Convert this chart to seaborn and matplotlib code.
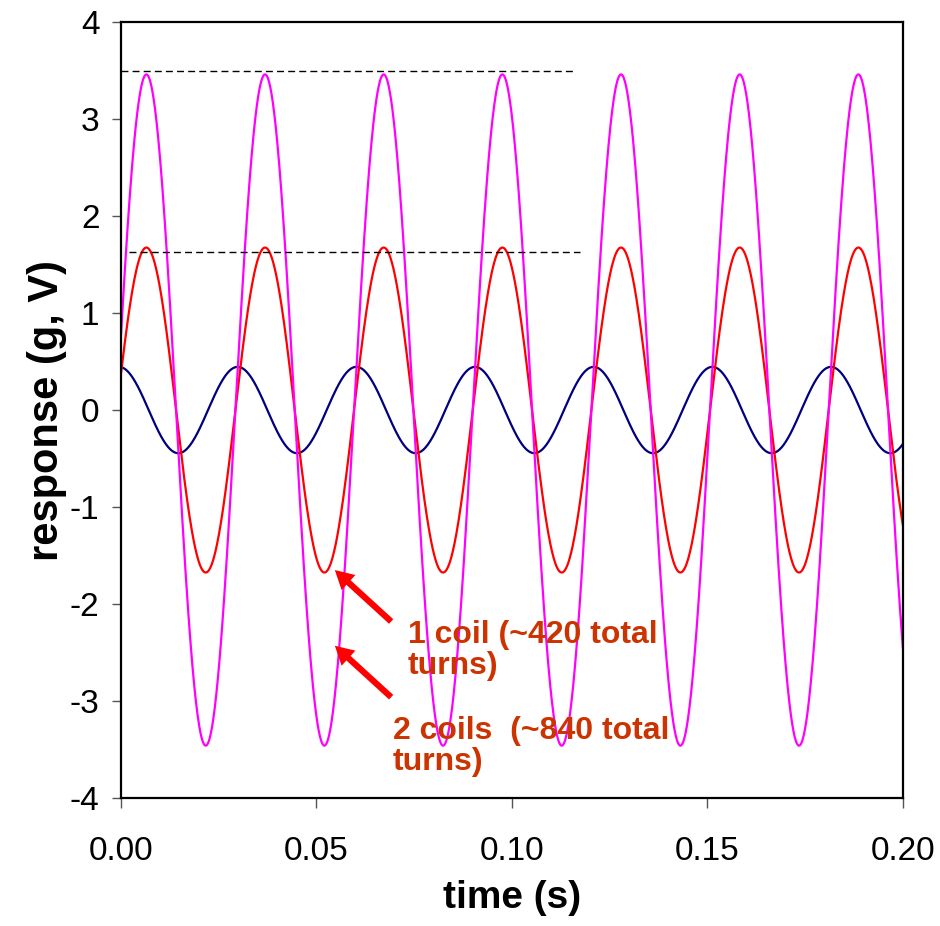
import numpy as np
import pandas as pd
import matplotlib
matplotlib.use("Agg")
import matplotlib.pyplot as plt
import seaborn as sns

# Values
series_names = ["input (g)", "1 coil", "2 coils"]
series_colors = ["#000080", "#FF0000", "#FF00FF"]
amplitudes = [0.445, 1.675, 3.46]      # peak value of each trace
peak_times = [-0.0005, 0.0065, 0.0065]  # time of first peak (s)
frequency_hz = 32.95                    # same drive frequency for all traces
time_range = [0.0, 0.2]

# dashed guide lines at the peak levels
guide_levels = [3.5, 1.63]
guide_starts = [0.0, 0.002]
guide_ends = [0.1155, 0.1175]

# annotations
labels = ["1 coil (~420 total\nturns)", "2 coils  (~840 total\nturns)"]
label_x = [0.0734, 0.0696]
label_y = [-2.16, -3.15]
arrow_tails = [(0.0691, -2.18), (0.0691, -2.96)]
arrow_tips = [(0.0547, -1.65), (0.0547, -2.43)]

# build a long table of the traces
t = np.linspace(time_range[0], time_range[1], 2001)
frames = []
for name, amp, tp in zip(series_names, amplitudes, peak_times):
    frames.append(pd.DataFrame({
        "time": t,
        "response": amp * np.cos(2 * np.pi * frequency_hz * (t - tp)),
        "series": name,
    }))
df = pd.concat(frames, ignore_index=True)

sns.set_style("ticks")
plt.rcParams["font.family"] = ["Liberation Sans", "DejaVu Sans"]
plt.rcParams["axes.unicode_minus"] = False
plt.rcParams["text.color"] = "black"
plt.rcParams["axes.labelcolor"] = "black"
plt.rcParams["xtick.labelcolor"] = "black"
plt.rcParams["ytick.labelcolor"] = "black"

fig = plt.figure(figsize=(9.4, 9.26), dpi=100)
ax = fig.add_axes([0.1287, 0.1382, 0.8319, 0.838])

sns.lineplot(data=df, x="time", y="response", hue="series",
             palette=dict(zip(series_names, series_colors)),
             hue_order=series_names, estimator=None, sort=False,
             linewidth=1.6, legend=False, ax=ax)

for lvl, x0, x1 in zip(guide_levels, guide_starts, guide_ends):
    ax.plot([x0, x1], [lvl, lvl], color="black", lw=1.0,
            dashes=(5, 3), zorder=3)

for (tx, ty), (hx, hy) in zip(arrow_tails, arrow_tips):
    ax.annotate("", xy=(hx, hy), xytext=(tx, ty),
                arrowprops=dict(arrowstyle="simple,head_length=0.95,head_width=1.05,tail_width=0.32",
                                mutation_scale=14, color="#FF0000", lw=0,
                                shrinkA=0, shrinkB=0), zorder=4)

for txt, x, y in zip(labels, label_x, label_y):
    ax.text(x, y, txt, color="#CC3300", fontsize=23, fontweight="bold",
            va="top", ha="left", linespacing=1.08, zorder=5)

ax.set_xlim(0, 0.2)
ax.set_ylim(-4, 4)
ax.set_xticks([0.0, 0.05, 0.10, 0.15, 0.20])
ax.set_xticklabels(["0.00", "0.05", "0.10", "0.15", "0.20"])
ax.set_yticks(range(-4, 5))
ax.tick_params(axis="x", length=7, width=1, color="#555555", pad=20, labelsize=24)
ax.tick_params(axis="y", length=6.5, width=1, color="#555555", pad=9, labelsize=24)

for s in ax.spines.values():
    s.set_color("black")
    s.set_linewidth(1.6)

ax.set_xlabel("time (s)", fontsize=28, fontweight="bold", labelpad=10)
ax.set_ylabel("response (g, V)", fontsize=30, fontweight="bold", labelpad=2)

fig.savefig("out.png", dpi=100)
